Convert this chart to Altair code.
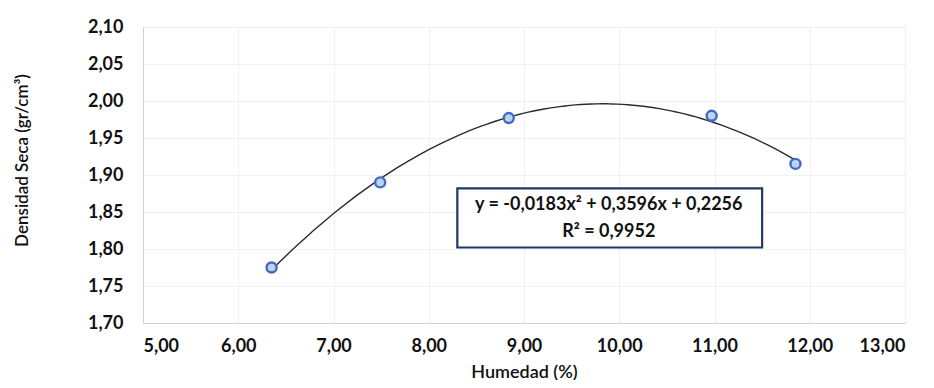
import altair as alt
import pandas as pd

# Data
humedad = [6.35, 7.49, 8.84, 10.97, 11.85]
densidad = [1.775, 1.890, 1.977, 1.980, 1.915]

x_ticks = [5, 6, 7, 8, 9, 10, 11, 12, 13]
y_ticks = [1.70, 1.75, 1.80, 1.85, 1.90, 1.95, 2.00, 2.05, 2.10]

eq_lines = ["y = -0,0183x² + 0,3596x + 0,2256", "R² = 0,9952"]
eq_line_y = [1.859, 1.823]
eq_text_x = [9.89, 9.89]
box_x = [8.30]
box_x2 = [11.50]
box_y = [1.802]
box_y2 = [1.882]

df = pd.DataFrame({"x": humedad, "y": densidad})
eq_df = pd.DataFrame({"x": eq_text_x, "y": eq_line_y, "t": eq_lines})
box_df = pd.DataFrame({"x": box_x, "x2": box_x2, "y": box_y, "y2": box_y2})

FONT = "Lato"
lab = "replace(format(datum.value, '.2f'), '.', ',')"

xs = alt.Scale(domain=[5, 13], nice=False, zero=False)
ys = alt.Scale(domain=[1.70, 2.10], nice=False, zero=False)

x_axis = alt.Axis(values=x_ticks, labelExpr=lab, title="Humedad (%)",
                  grid=True, gridColor="#f0f0f0", ticks=False, labelOverlap=False,
                  domainColor="#d0d0d0", labelPadding=14,
                  labelFont=FONT, labelFontSize=18, labelFontWeight="bold",
                  labelColor="#111111", titleFont=FONT, titleFontSize=18,
                  titleFontWeight=600, titleColor="#111111", titlePadding=8)
y_axis = alt.Axis(values=y_ticks, tickCount=9, labelExpr=lab,
                  title="Densidad Seca (gr/cm³)",
                  grid=True, gridColor="#f0f0f0", ticks=False, labelOverlap=False,
                  domainColor="#d0d0d0", labelPadding=20,
                  labelFont=FONT, labelFontSize=18, labelFontWeight="bold",
                  labelColor="#111111", titleFont=FONT, titleFontSize=17,
                  titleFontWeight=600, titleColor="#111111",
                  titleX=-121, titleY=133, titleAlign="center",
                  titleBaseline="middle", titleAngle=270)

X = alt.X("x:Q", scale=xs, axis=x_axis)
Y = alt.Y("y:Q", scale=ys, axis=y_axis)

base = alt.Chart(df)

points = base.mark_point(filled=False, size=100, strokeWidth=2.4,
                         color="#4569bd", fill="#b9d3f0", fillOpacity=1).encode(x=X, y=Y)

trend = base.transform_regression("x", "y", method="poly", order=2).mark_line(
    color="#2a2a35", strokeWidth=1.4).encode(x=X, y=Y)

box = alt.Chart(box_df).mark_rect(fill="white", stroke="#1f3864", strokeWidth=2.2).encode(
    x=X, x2="x2:Q", y=Y, y2="y2:Q",
)

eq = alt.Chart(eq_df).mark_text(font=FONT, fontSize=18, fontWeight="bold",
                                color="#111111", align="center", baseline="middle").encode(
    x=X, y=Y, text="t:N",
)

chart = alt.layer(trend, box, eq, points).properties(
    width=762, height=296,
    autosize=alt.AutoSizeParams(type="none"),
    padding={"left": 135, "top": 19, "right": 21, "bottom": 57},
).configure_view(stroke=None).configure(background="white")

chart.save("out.html", embed_options={"renderer": "svg", "actions": False})
